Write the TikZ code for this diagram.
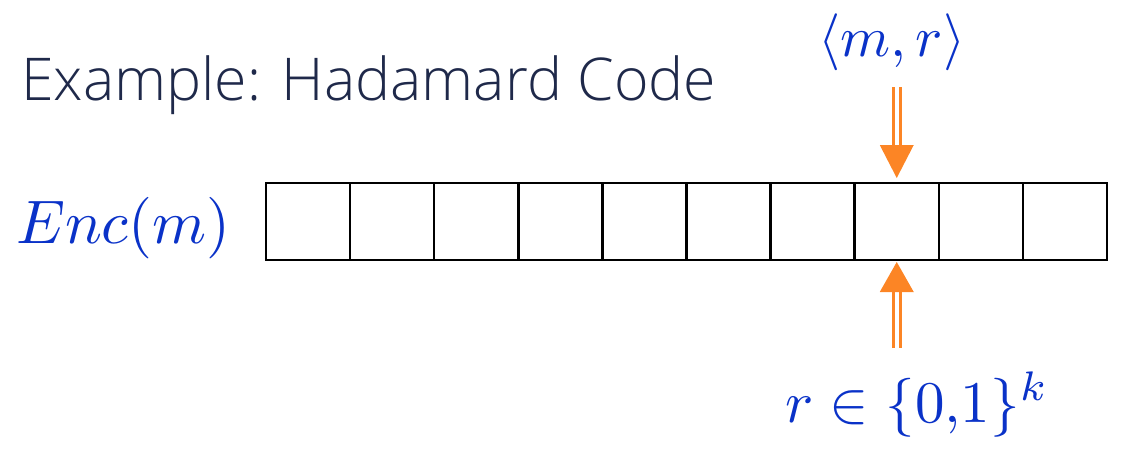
\documentclass[tikz,border=0pt]{standalone}
\usepackage{graphicx}
\usepackage[no-math]{fontspec}
\setmainfont{Open Sans}[UprightFont=* Light]
\usetikzlibrary{positioning}
\definecolor{titlecol}{RGB}{31,41,74}
\definecolor{mathblue}{RGB}{10,50,200}
\definecolor{arrorange}{RGB}{252,133,37}
\newcommand{\bigmath}[2][6]{\scalebox{#1}{$#2$}}
\tikzset{
  cell/.style={draw=black, line width=2.5pt, minimum width=84.1pt, minimum height=77pt, inner sep=0pt, outer sep=0pt},
  stem/.style={draw=arrorange, line width=3pt, double=white, double distance=4pt},
  headfill/.style={fill=arrorange},
  mathlbl/.style={text=mathblue, inner sep=0pt},
}
\begin{document}
\begin{tikzpicture}[x=1pt,y=-1pt]
\useasboundingbox (0,0) rectangle (1127,448);
\node[anchor=base west, inner sep=0pt, text=titlecol, font=\fontsize{59}{70}\selectfont] (title) at (21,100) {Example: Hadamard Code};
\node[mathlbl, anchor=base west] (enc) at (16,243) {\bigmath[6.15]{Enc(m)}};
\foreach \i in {1,...,10} {
  \node[cell] (c\i) at ({266+84.1*(\i-0.5)},221.5) {};
}
\node[mathlbl, anchor=base] (mr) at (892,56) {\bigmath[5.7]{\langle m,r\rangle}};
\node[mathlbl, anchor=base west] (rk) at (785,422) {\bigmath[5.9]{r\in\{0{,}1\}^k}};
% down arrow
\coordinate (dtop) at ([yshift=96pt]c8.north);
\coordinate (dbase) at ([yshift=38pt]c8.north);
\path[stem] (dtop) -- (dbase);
\path[headfill] ([xshift=-17pt]dbase) -- ([xshift=17pt]dbase) -- ([yshift=5pt]c8.north) -- cycle;
% up arrow
\coordinate (ubot) at ([yshift=-88pt]c8.south);
\coordinate (ubase) at ([yshift=-32pt]c8.south);
\path[stem] (ubot) -- (ubase);
\path[headfill] ([xshift=-17pt]ubase) -- ([xshift=17pt]ubase) -- ([yshift=-2pt]c8.south) -- cycle;
\end{tikzpicture}
\end{document}
